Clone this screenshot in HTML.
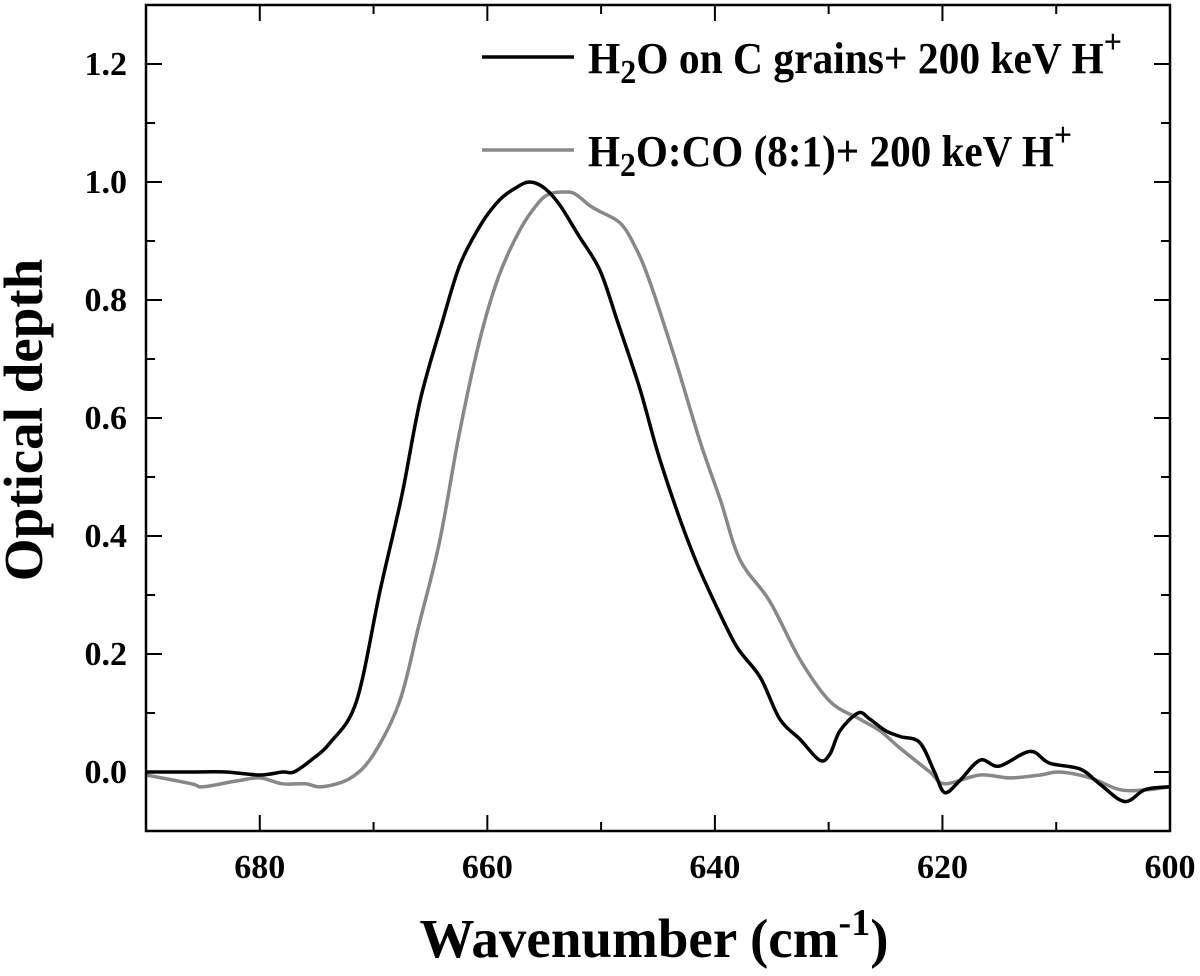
<!DOCTYPE html>
<html><head><meta charset="utf-8"><style>
body{margin:0;background:#fff;}
svg{display:block;font-family:"Liberation Serif",serif;font-weight:bold;}
</style></head><body>
<svg id="chart" width="1200" height="976"></svg>
<script>
const xTicks=[680,660,640,620,600];
const xMinor=[690,670,650,630,610];
const yTicks=[0.0,0.2,0.4,0.6,0.8,1.0,1.2];
const yMinor=[-0.1,0.1,0.3,0.5,0.7,0.9,1.1];
const blackX=[690,686,683,680,678,677,675.5,673.8,671.5,669.4,667.5,665.9,664,662.4,660.5,658.9,657.5,656.3,655,653.6,652,650.1,648.5,646.6,645,643.1,641.5,639.6,638,636,634.3,632.5,630.8,629.9,629,627.4,626.4,625,623.7,622,620.7,619.8,618.5,616.7,615,612.3,610.6,607.9,606.2,604,602.2,600];
const blackY=[0.0,0.0,0.0,-0.005,0.0,0.0,0.02,0.05,0.12,0.31,0.47,0.63,0.76,0.86,0.93,0.97,0.99,1.0,0.99,0.96,0.91,0.85,0.76,0.65,0.54,0.43,0.35,0.27,0.21,0.16,0.09,0.055,0.02,0.03,0.07,0.1,0.09,0.07,0.06,0.05,0.0,-0.035,-0.015,0.02,0.01,0.035,0.015,0.005,-0.02,-0.05,-0.03,-0.025];
const grayX=[690,686,685,682,680,678,676,674.5,672,670,667.7,666,664.2,662.5,660.7,659,657.1,655.5,654.5,653.3,652.3,651,650.1,648.3,647,645.7,643.5,641.3,639.5,637.8,635.2,632.5,629.9,627.3,625.5,623.7,621.1,619.8,616.7,614.1,611.4,609.7,607,604.4,602,600];
const grayY=[-0.005,-0.02,-0.025,-0.015,-0.01,-0.02,-0.02,-0.025,-0.01,0.03,0.12,0.25,0.39,0.57,0.73,0.84,0.92,0.965,0.98,0.983,0.98,0.96,0.95,0.93,0.89,0.83,0.7,0.56,0.46,0.36,0.29,0.19,0.12,0.09,0.07,0.04,0.0,-0.02,-0.005,-0.01,-0.005,0.0,-0.01,-0.03,-0.03,-0.025];
const L=146,R=1170,T=5,B=831;
const sx=v=>L+(690-v)/90*(R-L);
const sy=v=>B-(v+0.1)/1.4*(B-T);
const svg=document.getElementById('chart');
const NS='http://www.w3.org/2000/svg';
function mk(tag,attrs,parent){const e=document.createElementNS(NS,tag);for(const k in attrs)e.setAttribute(k,attrs[k]);(parent||svg).appendChild(e);return e;}
function series(xs,ys,color,name){
  const P=xs.map((x,i)=>[sx(x),sy(ys[i])]);
  let d='M'+P[0][0].toFixed(1)+','+P[0][1].toFixed(1);
  for(let i=0;i<P.length-1;i++){
    const p0=P[Math.max(i-1,0)],p1=P[i],p2=P[i+1],p3=P[Math.min(i+2,P.length-1)];
    const c1=[p1[0]+(p2[0]-p0[0])/6,p1[1]+(p2[1]-p0[1])/6];
    const c2=[p2[0]-(p3[0]-p1[0])/6,p2[1]-(p3[1]-p1[1])/6];
    d+='C'+c1[0].toFixed(1)+','+c1[1].toFixed(1)+' '+c2[0].toFixed(1)+','+c2[1].toFixed(1)+' '+p2[0].toFixed(1)+','+p2[1].toFixed(1);
  }
  const p=mk('path',{d:d,fill:'none',stroke:color,'stroke-width':3.5,'stroke-linejoin':'round'});
  
  
}
series(grayX,grayY,'#888','series-h2o-co');
series(blackX,blackY,'#000','series-h2o-c-grains');
const fr=mk('rect',{x:L,y:T,width:R-L,height:B-T,fill:'none',stroke:'#000','stroke-width':2.5});


xTicks.forEach(v=>{
  mk('line',{x1:sx(v),x2:sx(v),y1:B,y2:B-16,stroke:'#000','stroke-width':2});
  mk('line',{x1:sx(v),x2:sx(v),y1:T,y2:T+16,stroke:'#000','stroke-width':2});
  const t=mk('text',{x:sx(v),y:878,'text-anchor':'middle','font-size':34});
  t.textContent=v;
  
  
});
xMinor.forEach(v=>{
  mk('line',{x1:sx(v),x2:sx(v),y1:B,y2:B-9,stroke:'#000','stroke-width':2});
  mk('line',{x1:sx(v),x2:sx(v),y1:T,y2:T+9,stroke:'#000','stroke-width':2});
});
yTicks.forEach(v=>{
  mk('line',{x1:L,x2:L+16,y1:sy(v),y2:sy(v),stroke:'#000','stroke-width':2});
  mk('line',{x1:R,x2:R-16,y1:sy(v),y2:sy(v),stroke:'#000','stroke-width':2});
  const t=mk('text',{x:127,y:sy(v)+11,'text-anchor':'end','font-size':34});
  t.textContent=v.toFixed(1);
  
  
});
yMinor.forEach(v=>{
  mk('line',{x1:L,x2:L+9,y1:sy(v),y2:sy(v),stroke:'#000','stroke-width':2});
  mk('line',{x1:R,x2:R-9,y1:sy(v),y2:sy(v),stroke:'#000','stroke-width':2});
});
</script>
<svg width="1200" height="976" style="position:absolute;left:0;top:0;font-family:'Liberation Serif',serif;font-weight:bold">
  <text x="0" y="0" font-size="55" text-anchor="middle" transform="translate(42,420) rotate(-90)">Optical depth</text>
  <text x="654" y="957" font-size="55" text-anchor="middle">Wavenumber (cm<tspan font-size="38" dy="-22">-1</tspan><tspan dy="22">)</tspan></text>
  <g>
    <line x1="482" y1="57" x2="574" y2="57" stroke="#000" stroke-width="3.5"/>
    <text x="588" y="73" font-size="44" textLength="534" lengthAdjust="spacingAndGlyphs">H<tspan font-size="34" dy="10">2</tspan><tspan dy="-10">O on C grains+ 200 keV H</tspan><tspan font-size="34" dy="-20">+</tspan></text>
    <line x1="482" y1="150" x2="574" y2="150" stroke="#888" stroke-width="3.5"/>
    <text x="588" y="166" font-size="44" textLength="484" lengthAdjust="spacingAndGlyphs">H<tspan font-size="34" dy="10">2</tspan><tspan dy="-10">O:CO (8:1)+ 200 keV H</tspan><tspan font-size="34" dy="-20">+</tspan></text>
  </g>
</svg>
</body></html>
